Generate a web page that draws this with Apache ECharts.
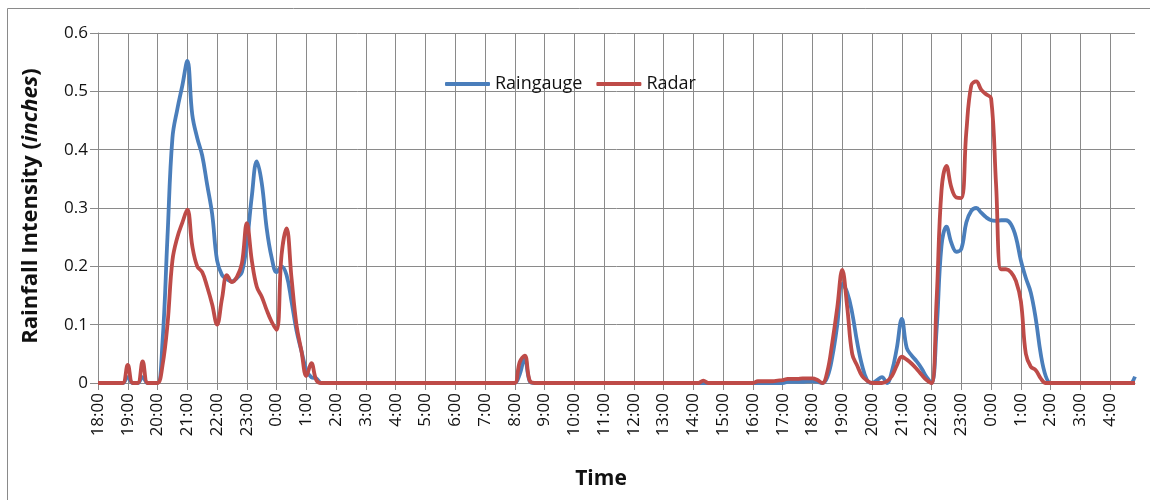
<!DOCTYPE html>
<html>
<head>
<meta charset="utf-8">
<script src="https://cdn.jsdelivr.net/npm/echarts@6/dist/echarts.min.js"></script>
<style>
html,body{margin:0;padding:0;background:#fff;}
#chart{width:1150px;height:500px;}
</style>
</head>
<body>
<div id="chart"></div>
<script>
// 10-minute steps from 18:00 (day 1) to 4:50 (day 3)
const startHour = 18;
const hourCount = 35;
const stepsPerHour = 6;

// Raingauge values, one row per hour (six 10-min values each)
const raingauge = [
  0,0,0,0,0,0,                       // 18
  0.01,0,0,0.01,0,0,                 // 19
  0,0.07,0.25,0.42,0.47,0.51,        // 20
  0.552,0.46,0.42,0.39,0.34,0.29,    // 21
  0.21,0.185,0.178,0.174,0.18,0.19,  // 22
  0.24,0.32,0.38,0.343,0.265,0.215,  // 23
  0.19,0.2,0.185,0.14,0.09,0.055,    // 0
  0.022,0.01,0.008,0,0,0,            // 1
  0,0,0,0,0,0,                       // 2
  0,0,0,0,0,0,                       // 3
  0,0,0,0,0,0,                       // 4
  0,0,0,0,0,0,                       // 5
  0,0,0,0,0,0,                       // 6
  0,0,0,0,0,0,                       // 7
  0,0.015,0.043,0.003,0,0,           // 8
  0,0,0,0,0,0,                       // 9
  0,0,0,0,0,0,                       // 10
  0,0,0,0,0,0,                       // 11
  0,0,0,0,0,0,                       // 12
  0,0,0,0,0,0,                       // 13
  0,0,0,0,0,0,                       // 14
  0,0,0,0,0,0,                       // 15
  0,0,0,0,0,0,                       // 16
  0,0.002,0.002,0.002,0.002,0.003,   // 17
  0.003,0.002,0,0.01,0.045,0.10,     // 18
  0.17,0.155,0.12,0.07,0.03,0.005,   // 19
  0,0.005,0.01,0,0.02,0.06,          // 20
  0.11,0.06,0.047,0.037,0.025,0.01,  // 21
  0,0.09,0.235,0.268,0.24,0.225,     // 22
  0.23,0.275,0.295,0.30,0.292,0.284, // 23
  0.279,0.278,0.279,0.279,0.272,0.25,// 0
  0.21,0.18,0.155,0.11,0.05,0.012,   // 1
  0,0,0,0,0,0,                       // 2
  0,0,0,0,0,0,                       // 3
  0,0,0,0,0,0.011                    // 4
];

// Radar values, one row per hour (six 10-min values each)
const radar = [
  0,0,0,0,0,0,                       // 18
  0.031,0,0,0.037,0,0,               // 19
  0,0.03,0.10,0.21,0.25,0.275,       // 20
  0.297,0.235,0.20,0.19,0.165,0.135, // 21
  0.10,0.145,0.185,0.173,0.182,0.205,// 22
  0.274,0.21,0.165,0.148,0.125,0.105,// 23
  0.091,0.22,0.265,0.18,0.10,0.055,  // 0
  0.012,0.034,0.005,0,0,0,           // 1
  0,0,0,0,0,0,                       // 2
  0,0,0,0,0,0,                       // 3
  0,0,0,0,0,0,                       // 4
  0,0,0,0,0,0,                       // 5
  0,0,0,0,0,0,                       // 6
  0,0,0,0,0,0,                       // 7
  0,0.036,0.047,0.004,0,0,           // 8
  0,0,0,0,0,0,                       // 9
  0,0,0,0,0,0,                       // 10
  0,0,0,0,0,0,                       // 11
  0,0,0,0,0,0,                       // 12
  0,0,0,0,0,0,                       // 13
  0,0,0.004,0,0,0,                   // 14
  0,0,0,0,0,0,                       // 15
  0,0.003,0.003,0.003,0.003,0.004,   // 16
  0.005,0.007,0.007,0.007,0.008,0.008,// 17
  0.008,0.005,0,0.02,0.07,0.13,      // 18
  0.194,0.13,0.05,0.03,0.012,0.004,  // 19
  0,0,0,0.003,0.012,0.03,            // 20
  0.045,0.04,0.033,0.024,0.014,0.005,// 21
  0,0.14,0.33,0.372,0.335,0.318,     // 22
  0.317,0.43,0.51,0.517,0.503,0.495, // 23
  0.488,0.34,0.195,0.195,0.19,0.175, // 0
  0.14,0.05,0.028,0.022,0.008,0,     // 1
  0,0,0,0,0,0,                       // 2
  0,0,0,0,0,0,                       // 3
  0,0,0,0,0,0                        // 4
];

const seriesNames = ['Raingauge', 'Radar'];
const yTicks = [0, 0.1, 0.2, 0.3, 0.4, 0.5, 0.6];

// category labels "H:MM"
const categories = [];
for (let h = 0; h < hourCount; h++) {
  for (let s = 0; s < stepsPerHour; s++) {
    const hr = (startHour + h) % 24;
    const mm = s * 10;
    categories.push(hr + ':' + (mm < 10 ? '0' + mm : mm));
  }
}

const FONT = '"Open Sans", "Noto Sans", sans-serif';
const GRID = '#8a8a8a';
const BLUE = '#4A7EBB';
const RED = '#BE4B48';

const chart = echarts.init(document.getElementById('chart'), null, {renderer: 'canvas'});
chart.setOption({
  animation: false,
  backgroundColor: '#ffffff',
  grid: {left: 98, right: 15, top: 33, bottom: 117, containLabel: false},
  legend: {
    data: seriesNames,
    left: 440, top: 70,
    icon: 'roundRect',
    itemWidth: 45, itemHeight: 4, itemGap: 14,
    textStyle: {fontFamily: FONT, fontSize: 18, color: '#111'}
  },
  xAxis: {
    type: 'category',
    data: categories,
    boundaryGap: false,
    axisLine: {show: true, lineStyle: {color: GRID, width: 1}},
    axisTick: {show: true, interval: stepsPerHour - 1, length: 7, lineStyle: {color: GRID}},
    axisLabel: {interval: stepsPerHour - 1, rotate: 90, margin: 10,
      fontFamily: FONT, fontSize: 17, color: '#111'},
    splitLine: {show: true, interval: stepsPerHour - 1, lineStyle: {color: GRID, width: 1}}
  },
  yAxis: {
    type: 'value',
    min: yTicks[0], max: yTicks[yTicks.length - 1], interval: 0.1,
    axisLine: {show: true, lineStyle: {color: GRID, width: 1}},
    axisTick: {show: true, length: 8, lineStyle: {color: GRID}},
    axisLabel: {margin: 10, fontFamily: FONT, fontSize: 17, color: '#111',
      formatter: v => (v === 0 ? '0' : v.toFixed(1))},
    splitLine: {show: true, lineStyle: {color: GRID, width: 1}}
  },
  series: [
    {name: seriesNames[0], type: 'line', data: raingauge, smooth: 0.4,
      symbol: 'none', color: BLUE, itemStyle: {color: BLUE},
      lineStyle: {width: 3.8, color: BLUE}},
    {name: seriesNames[1], type: 'line', data: radar, smooth: 0.4,
      symbol: 'none', color: RED, itemStyle: {color: RED},
      lineStyle: {width: 3.8, color: RED}}
  ],
  graphic: [
    {type: 'rect', shape: {x: 7.5, y: 8.5, width: 1170, height: 530},
      style: {fill: 'none', stroke: '#8a8a8a', lineWidth: 1}, silent: true},
    {type: 'text', x: 601, y: 479,
      style: {text: 'Time', font: 'bold 21px ' + FONT, fill: '#111',
        align: 'center', verticalAlign: 'middle'}},
    {type: 'text', x: 31, y: 206, rotation: Math.PI / 2,
      style: {text: '{b|Rainfall Intensity (}{i|inches}{b|)}',
        align: 'center', verticalAlign: 'middle',
        rich: {
          b: {font: 'bold 22px ' + FONT, fill: '#111'},
          i: {font: 'italic bold 22px ' + FONT, fill: '#111'}
        }}}
  ]
});
</script>
</body>
</html>
